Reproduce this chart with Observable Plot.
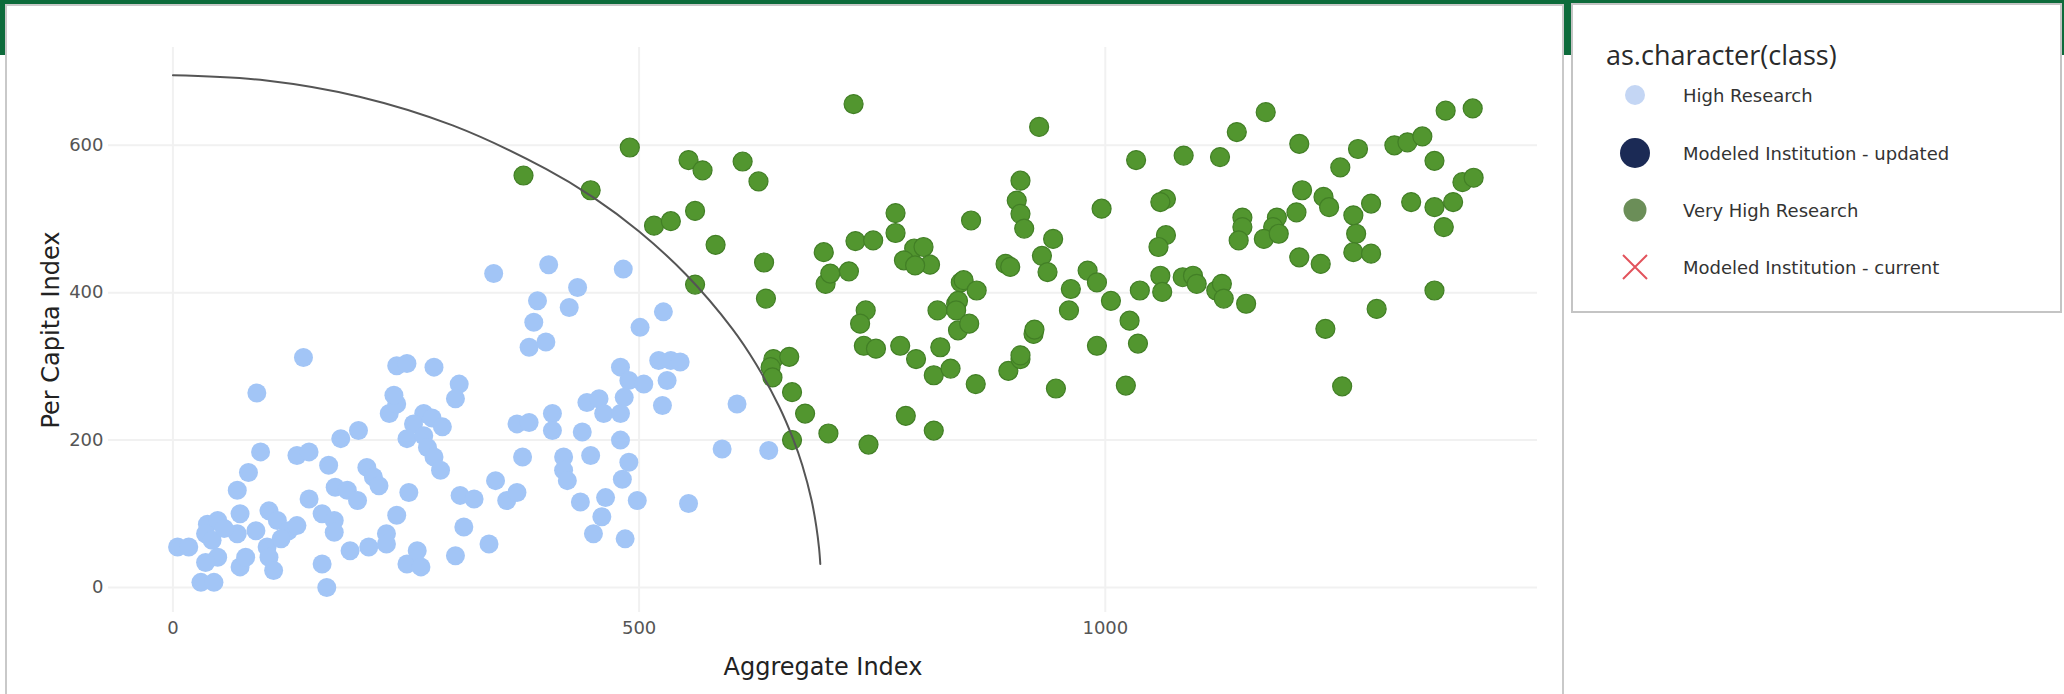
<!DOCTYPE html>
<html>
<head>
<meta charset="utf-8">
<script src="https://cdn.jsdelivr.net/npm/d3@7"></script>
<script src="https://cdn.jsdelivr.net/npm/@observablehq/plot@0.6"></script>
<style>
  html, body { margin: 0; padding: 0; }
  body { width: 2064px; height: 694px; position: relative; overflow: hidden; background: #fff; }
  #band { position: absolute; left: 0; top: 0; width: 2064px; height: 55px; background: #0d6b3b; }
  #panel { position: absolute; left: 5px; top: 4px; width: 1559px; height: 720px; background: #fff; border: 2px solid #c9c9c9; box-sizing: border-box; }
  #chart { position: absolute; left: 0; top: 0; width: 1560px; height: 694px; }
  #legend { position: absolute; left: 1571px; top: 3px; width: 491px; height: 310px; background: #fff; border: 2px solid #c4c4c4; box-sizing: border-box; }
  #legend .title { position: absolute; left: 33px; top: 32px; font-family: "Open Sans", sans-serif; font-size: 27px; color: #2a2a2a; line-height: 36px; }
  #legend .item { position: absolute; left: 42px; height: 40px; display: flex; align-items: center; }
  #legend .item span { font-family: "DejaVu Sans", sans-serif; font-size: 18px; color: #333; margin-left: 28px; }
</style>
</head>
<body>
<div id="band"></div>
<div id="panel"></div>
<div id="chart"></div>
<div id="legend"></div>
<script>
// ---- data ----
const xTicks = [0, 500, 1000];
const yTicks = [0, 200, 400, 600];
const xTitle = "Aggregate Index";
const yTitle = "Per Capita Index";

// High Research institutions [aggregate, per capita]
const highResearch = [
  [5,55],[17,55],[37,86],[48,91],[35,73],[42,64],[48,41],[35,34],[30,7],[44,7],[72,28],[78,41],[69,73],[72,100],
  [69,132],[81,156],[94,184],[89,77],[103,104],[112,91],[124,77],[133,84],[101,55],[103,41],[108,23],[55,80],[116,66],
  [133,179],[146,184],[167,166],[180,202],[199,213],[232,236],[240,249],[146,120],[174,136],[187,132],[198,118],
  [208,163],[215,150],[221,138],[160,100],[173,91],[173,75],[160,32],[165,0],[190,50],[210,55],[229,73],[240,98],
  [229,59],[253,129],[251,32],[262,50],[266,28],
  [344,426],[403,438],[483,432],[391,389],[434,407],[425,380],[387,360],[382,326],[400,333],[140,312],[90,264],
  [240,301],[251,304],[280,299],[307,276],[303,256],[237,261],[269,236],[278,230],[289,218],[258,222],[251,202],
  [269,206],[273,190],[280,177],[287,159],[303,43],[339,59],[312,82],[308,125],[323,120],[346,145],[358,118],
  [369,129],[375,177],[369,222],[382,224],[407,236],[407,213],[419,177],[419,159],[423,145],[439,211],[448,179],
  [444,251],[457,256],[437,116],[460,96],[451,73],
  [501,353],[526,374],[521,308],[534,308],[544,306],[480,299],[489,281],[505,276],[530,281],[484,258],[462,236],
  [480,236],[525,247],[605,249],[589,188],[639,186],[480,200],[489,170],[482,147],[464,122],[498,118],[553,114],[485,66]
];

// Very High Research institutions [aggregate, per capita]
const veryHighResearch = [
  [376,559],[448,539],[490,597],[553,580],[568,566],[611,578],[628,551],[730,656],[516,491],[534,497],[560,511],
  [582,465],[560,411],[634,441],[636,392],[698,455],[700,412],[705,426],[725,429],[732,470],[751,471],[775,508],
  [775,481],[795,460],[805,462],[784,444],[812,438],[796,437],[845,414],[820,376],[840,385],[743,376],[737,358],
  [741,328],[754,324],[780,328],[797,310],[823,326],[644,310],[661,313],
  [641,299],[643,285],[664,265],[678,236],[664,200],[703,209],[746,194],[786,233],[816,213],[861,276],[947,270],
  [896,294],[909,310],[816,288],[834,297],[842,349],[923,344],
  [929,625],[1172,645],[1365,647],[1394,650],[1141,618],[1208,602],[1033,580],[1084,586],[1123,584],[1271,595],
  [1252,570],[1310,600],[1324,604],[1340,612],[1353,579],[1383,550],[1395,556],[1373,523],[1363,489],[1353,516],
  [1328,523],[1353,403],[1285,521],[1266,505],[1269,480],[1266,455],[1285,453],[1234,530],[1240,516],[1211,539],
  [1205,509],[1184,502],[1180,489],[1170,473],[1186,480],[1147,502],[1147,489],[1143,471],[1208,448],[1231,439],
  [1291,378],[1236,351],[909,552],[905,525],[909,507],[913,487],[856,498],[996,514],[1065,527],[1059,523],
  [1065,478],[1057,462],[944,473],[932,450],[938,428],[893,439],[898,435],[848,417],[862,403],[842,389],[840,376],
  [854,358],[963,405],[961,376],[981,430],[991,414],[1006,389],[1037,403],[1059,423],[1061,401],[1083,421],
  [1094,423],[1098,412],[1119,403],[1125,412],[1127,392],[1151,385],[1026,362],[1035,331],[991,328],[924,350],
  [909,315],[1022,274],[1254,273]
];

// boundary curve points read along the drawn arc
const arcX = [0, 100, 200, 300, 400, 450, 500, 550, 600, 625, 650, 665, 675, 685, 690, 693, 694.3];
const arcY = [695, 688, 666, 627, 568, 530, 483, 425, 351, 304, 246, 202, 166, 118, 83, 53, 32];

// legend
const legendTitle = "as.character(class)";
const legendLabels = ["High Research", "Modeled Institution - updated", "Very High Research", "Modeled Institution - current"];
const legendSymbols = ["circle", "circle", "circle", "cross"];
const legendColors = ["#c4d6f4", "#1b2a55", "#6b8e58", "#e2535c"];
const legendSizes = [10, 15, 11.5, 12];

// ---- styles ----
const blueFill = "#a2c5f6";
const greenFill = "#52962f";
const greenStroke = "#427f26";

const hr = highResearch.map(([x, y]) => ({x, y}));
const vhr = veryHighResearch.map(([x, y]) => ({x, y}));
const arc = arcX.map((x, i) => ({x, y: arcY[i]}));

const chart = Plot.plot({
  width: 1560,
  height: 694,
  marginLeft: 108,
  marginRight: 23,
  marginTop: 47,
  marginBottom: 82,
  x: {domain: [-69.1, 1463.5]},
  y: {domain: [-33.9, 732.7]},
  style: {fontFamily: "DejaVu Sans", fontSize: "18px", background: "transparent", color: "#555", maxWidth: "none", overflow: "visible"},
  marks: [
    Plot.gridX({ticks: xTicks, stroke: "#f1f1f1", strokeOpacity: 1, strokeWidth: 2}),
    Plot.gridY({ticks: yTicks, stroke: "#f1f1f1", strokeOpacity: 1, strokeWidth: 2}),
    Plot.axisX({ticks: xTicks, tickSize: 0, tickPadding: 9, label: null, fill: "#555", tickFormat: d => String(d)}),
    Plot.axisY({ticks: yTicks, tickSize: 0, tickPadding: 5, label: null, fill: "#555", tickFormat: d => String(d)}),
    Plot.text([xTitle], {frameAnchor: "bottom", dy: 55, text: d => d, fontSize: 24, fill: "#222", textAnchor: "middle", lineAnchor: "middle"}),
    Plot.text([yTitle], {frameAnchor: "left", dx: -57, rotate: -90, text: d => d, fontSize: 24, fill: "#222", textAnchor: "middle", lineAnchor: "middle"}),
    Plot.dot(hr, {x: "x", y: "y", r: 9.5, fill: blueFill, stroke: "none"}),
    Plot.dot(vhr, {x: "x", y: "y", r: 9.5, fill: greenFill, stroke: greenStroke, strokeWidth: 1.2}),
    Plot.line(arc, {x: "x", y: "y", stroke: "#555", strokeWidth: 2, curve: "catmull-rom"})
  ]
});
document.getElementById("chart").append(chart);

// ---- legend (HTML text + small svg symbols) ----
const legend = document.getElementById("legend");
const t = document.createElement("div");
t.className = "title";
t.textContent = legendTitle;
legend.append(t);
const itemCenters = [90, 148, 205, 262];
legendLabels.forEach((label, i) => {
  const item = document.createElement("div");
  item.className = "item";
  item.style.top = (itemCenters[i] - 20) + "px";
  const s = legendSizes[i];
  let sym;
  if (legendSymbols[i] === "cross") {
    sym = `<svg width="40" height="40"><path d="M${20 - s},${20 - s}L${20 + s},${20 + s}M${20 + s},${20 - s}L${20 - s},${20 + s}" stroke="${legendColors[i]}" stroke-width="2" fill="none"/></svg>`;
  } else {
    sym = `<svg width="40" height="40"><circle cx="20" cy="20" r="${s}" fill="${legendColors[i]}"/></svg>`;
  }
  item.innerHTML = sym + `<span></span>`;
  item.querySelector("span").textContent = label;
  legend.append(item);
});
</script>
</body>
</html>
